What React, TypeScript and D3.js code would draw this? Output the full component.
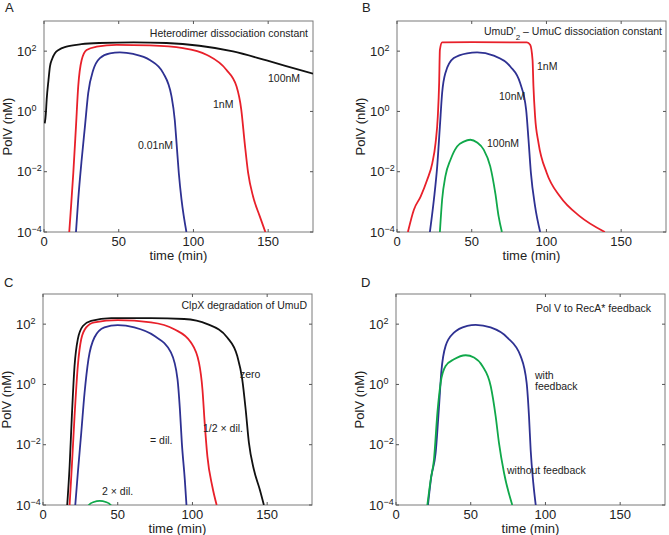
import React from "react";
import * as d3 from "d3";

// ---- data (time in min, PolV in nM) ----
const xTicks = [0, 50, 100, 150];
const yTickExps = [-4, -2, 0, 2];

// Panel A: heterodimer dissociation constant
const aBlackT = [0.5, 1.2, 1.8, 3, 4, 5.5, 7.3, 10, 15, 25, 37, 60, 82, 104, 126.5, 149, 171, 180];
const aBlackV = [0.4, 0.8, 2.5, 11, 31, 56, 85, 112, 141, 170, 186, 195, 186, 151, 98, 49, 24, 18];
const aRedT = [16.9, 17.8, 19.6, 21.4, 22.9, 25.2, 28.5, 35.2, 48.6, 70.8, 93, 108.7, 122, 128.8, 132, 134.3, 136.6, 139.9, 144.4, 148.1];
const aRedV = [1e-4, 4.3e-4, 9e-3, 0.32, 6.8, 51, 110, 141, 162, 155, 126, 76, 24, 6.8, 1.15, 0.089, 9.1e-3, 1.5e-3, 3.3e-4, 1e-4];
const aBlueT = [21.4, 22.9, 25.2, 27.4, 29.6, 33, 37.4, 44.1, 50.8, 59.7, 70.8, 79.7, 85.3, 87.5, 88.7, 90.2, 92, 95.3];
const aBlueV = [1e-4, 1.2e-3, 0.025, 0.32, 4.1, 24, 59, 85, 91, 81, 51, 19, 3.2, 0.52, 0.089, 9.1e-3, 1.2e-3, 1e-4];

// Panel B: UmuD'2 - UmuC dissociation constant
const bRedT = [7.3, 11.3, 15.8, 20.2, 23.6, 25.8, 27.3, 28.2, 28.7, 30.2, 50, 86.9, 89.1, 90.7, 91.3, 92.4, 94.7, 100.2, 109.1, 122.4, 139.1];
const bRedV = [1e-4, 5.5e-4, 1.5e-3, 5.4e-3, 0.019, 0.089, 0.68, 8.7, 110, 195, 200, 195, 162, 51, 6.8, 0.68, 0.089, 9.1e-3, 1.5e-3, 3.3e-4, 1e-4];
const bBlueT = [22, 24.7, 26.9, 28.7, 30.2, 32.4, 38, 46.9, 53.6, 64.7, 75.8, 82.4, 86.4, 88, 89.6, 92.4, 95.8];
const bBlueV = [1e-4, 1.2e-3, 0.015, 0.32, 4.1, 19, 59, 85, 91, 71, 31, 8.7, 1.15, 0.115, 9.1e-3, 7.1e-4, 1e-4];
const bGreenT = [28.7, 30.2, 32.4, 35.8, 40.2, 44.7, 49.1, 53.6, 58, 62.4, 65.8, 68, 70.2];
const bGreenV = [1e-4, 1.2e-3, 7.1e-3, 0.025, 0.069, 0.1, 0.115, 0.093, 0.054, 0.015, 1.9e-3, 3.3e-4, 1e-4];

// Panel C: ClpX degradation of UmuD
const cBlackT = [16.2, 17.8, 19.3, 21.1, 23.3, 26.7, 32.2, 45.6, 72.2, 94.4, 110, 123.3, 130, 133.3, 135.6, 137.8, 141.1, 145.1, 147.8];
const cBlackV = [1e-4, 1.9e-3, 0.087, 4.1, 32, 87, 129, 158, 158, 148, 100, 36, 8.7, 1.5, 0.15, 0.0115, 1.5e-3, 3.2e-4, 1e-4];
const cRedT = [17.8, 19.3, 21.1, 23.3, 25.6, 28.9, 34.4, 50, 72.2, 87.8, 98.9, 104.4, 106.7, 108.2, 110, 113.3, 116.2];
const cRedV = [1e-4, 1.9e-3, 0.087, 4.1, 32, 78, 115, 135, 115, 68, 25, 5.2, 0.68, 0.052, 4.1e-3, 4.1e-4, 1e-4];
const cBlueT = [21.6, 23.3, 25.6, 27.8, 30.4, 34.4, 41.1, 50, 61.1, 74.4, 85.6, 90, 91.6, 92.9, 94.9, 96];
const cBlueV = [1e-4, 1.15e-3, 0.025, 0.52, 6.8, 36, 78, 93, 78, 41, 11.5, 1.5, 0.15, 0.0115, 6.8e-4, 1e-4];
const cGreenT = [28, 30.7, 34, 38, 42, 45.3, 48];
const cGreenV = [5e-5, 1e-4, 1.26e-4, 1.38e-4, 1.26e-4, 1e-4, 5e-5];

// Panel D: Pol V to RecA* feedback
const dBlueT = [21.4, 23.6, 26.5, 28.8, 30.3, 33.2, 38.8, 47.7, 53.3, 63.3, 74.5, 83.4, 87.4, 89, 90.1, 91.9, 93.5];
const dBlueV = [1e-4, 8.7e-4, 5.2e-3, 0.19, 2.5, 19, 52, 87, 95, 78, 36, 8.7, 1.15, 0.087, 6.8e-3, 5.2e-4, 1e-4];
const dGreenT = [21, 23.2, 25.4, 27.7, 29.9, 33.2, 38.8, 46.6, 52.2, 57.8, 63.4, 66.7, 68.9, 72.3, 77.8];
const dGreenV = [1e-4, 6.8e-4, 3.2e-3, 0.115, 1.15, 4.1, 6.8, 9.3, 7.8, 4.1, 0.87, 0.087, 0.0115, 1.15e-3, 1e-4];

const RED = "#e8202a";
const BLUE = "#2e3192";
const GREEN = "#10a84a";
const BLACK = "#111111";
const FONT = "'Liberation Sans', Arial, Helvetica, sans-serif";

const PW = 269;
const PH = 211;

type Series = { t: number[]; v: number[]; color: string };
type Label = { x: number; y: number; lines: React.ReactNode; anchor?: string };

const zip = (t: number[], v: number[]) => t.map((d, i) => [d, v[i]] as [number, number]);

function Panel(props: {
  id: string;
  letter: string;
  letterX: number;
  letterY: number;
  left: number;
  top: number;
  series: Series[];
  labels: Label[];
}) {
  const { id, letter, letterX, letterY, left, top, series, labels } = props;
  const x = d3.scaleLinear().domain([0, 180]).range([0, PW]);
  const y = d3.scaleLog().domain([1e-4, 1e3]).range([PH, 0]);
  const line = d3
    .line<[number, number]>()
    .x((d) => x(d[0]))
    .y((d) => y(d[1]))
    .curve(d3.curveMonotoneX);
  const tl = 3;
  return (
    <g fontFamily={FONT}>
      <text x={letterX} y={letterY} fontSize={13} fill="#222">
        {letter}
      </text>
      <g transform={`translate(${left},${top})`}>
        <defs>
          <clipPath id={`clip-${id}`}>
            <rect x={0} y={0} width={PW} height={PH} />
          </clipPath>
        </defs>
        <rect x={0} y={0} width={PW} height={PH} fill="white" stroke="#7a7a7a" strokeWidth={1} />
        {xTicks.map((t) => (
          <g key={`xt${t}`}>
            <line x1={x(t)} x2={x(t)} y1={PH} y2={PH - tl} stroke="#555" />
            <line x1={x(t)} x2={x(t)} y1={0} y2={tl} stroke="#555" />
            <text x={x(t)} y={PH + 14} fontSize={13} textAnchor="middle" fill="#222">
              {t}
            </text>
          </g>
        ))}
        {yTickExps.map((e) => {
          const yy = y(Math.pow(10, e));
          return (
            <g key={`yt${e}`}>
              <line x1={0} x2={tl} y1={yy} y2={yy} stroke="#555" />
              <line x1={PW} x2={PW - tl} y1={yy} y2={yy} stroke="#555" />
              <text x={-27} y={yy + 4.5} fontSize={13} fill="#222">
                10
                <tspan fontSize={9} dy={-5}>
                  {e < 0 ? `\u2212${-e}` : `${e}`}
                </tspan>
              </text>
            </g>
          );
        })}
        <text x={PW / 2} y={PH + 28} fontSize={13} textAnchor="middle" fill="#222">
          time (min)
        </text>
        <text
          transform={`translate(${-32},${PH / 2}) rotate(-90)`}
          fontSize={13}
          textAnchor="middle"
          fill="#222"
        >
          PolV (nM)
        </text>
        <g clipPath={`url(#clip-${id})`}>
          {series.map((s, i) => (
            <path key={i} d={line(zip(s.t, s.v)) || ""} fill="none" stroke={s.color} strokeWidth={1.8} />
          ))}
        </g>
        {labels.map((l, i) => (
          <text key={i} x={l.x} y={l.y} fontSize={10.5} fill="#222" textAnchor={l.anchor || "start"}>
            {l.lines}
          </text>
        ))}
      </g>
    </g>
  );
}

export default function App() {
  return (
    <svg
      width={669}
      height={535}
      style={{ position: "absolute", left: 0, top: 0, background: "white" }}
    >
      <rect x={0} y={0} width={669} height={535} fill="white" />
      <Panel
        id="A"
        letter="A"
        letterX={5}
        letterY={12}
        left={44}
        top={21}
        series={[
          { t: aBlackT, v: aBlackV, color: BLACK },
          { t: aRedT, v: aRedV, color: RED },
          { t: aBlueT, v: aBlueV, color: BLUE },
        ]}
        labels={[
          { x: 264, y: 16, lines: "Heterodimer dissociation constant", anchor: "end" },
          { x: 224, y: 61, lines: "100nM" },
          { x: 169, y: 87, lines: "1nM" },
          { x: 94, y: 128, lines: "0.01nM" },
        ]}
      />
      <Panel
        id="B"
        letter="B"
        letterX={362}
        letterY={12}
        left={397}
        top={21}
        series={[
          { t: bRedT, v: bRedV, color: RED },
          { t: bBlueT, v: bBlueV, color: BLUE },
          { t: bGreenT, v: bGreenV, color: GREEN },
        ]}
        labels={[
          {
            x: 265,
            y: 14,
            anchor: "end",
            lines: (
              <>
                UmuD'
                <tspan fontSize={8} dy={5}>
                  2
                </tspan>
                <tspan dy={-5}> – UmuC dissociation constant</tspan>
              </>
            ),
          },
          { x: 140, y: 49, lines: "1nM" },
          { x: 102, y: 79, lines: "10nM" },
          { x: 90, y: 126, lines: "100nM" },
        ]}
      />
      <Panel
        id="C"
        letter="C"
        letterX={4}
        letterY={287}
        left={43}
        top={294}
        series={[
          { t: cBlackT, v: cBlackV, color: BLACK },
          { t: cRedT, v: cRedV, color: RED },
          { t: cBlueT, v: cBlueV, color: BLUE },
          { t: cGreenT, v: cGreenV, color: GREEN },
        ]}
        labels={[
          { x: 264, y: 15, lines: "ClpX degradation of UmuD", anchor: "end" },
          { x: 197, y: 84, lines: "zero" },
          { x: 160, y: 138, lines: "1/2 × dil." },
          { x: 107, y: 150, lines: "= dil." },
          { x: 59, y: 201, lines: "2 × dil." },
        ]}
      />
      <Panel
        id="D"
        letter="D"
        letterX={361}
        letterY={287}
        left={396}
        top={294}
        series={[
          { t: dBlueT, v: dBlueV, color: BLUE },
          { t: dGreenT, v: dGreenV, color: GREEN },
        ]}
        labels={[
          { x: 140, y: 18, lines: "Pol V to RecA* feedback" },
          { x: 139, y: 85, lines: "with" },
          { x: 139, y: 96, lines: "feedback" },
          { x: 111, y: 180, lines: "without feedback" },
        ]}
      />
    </svg>
  );
}
